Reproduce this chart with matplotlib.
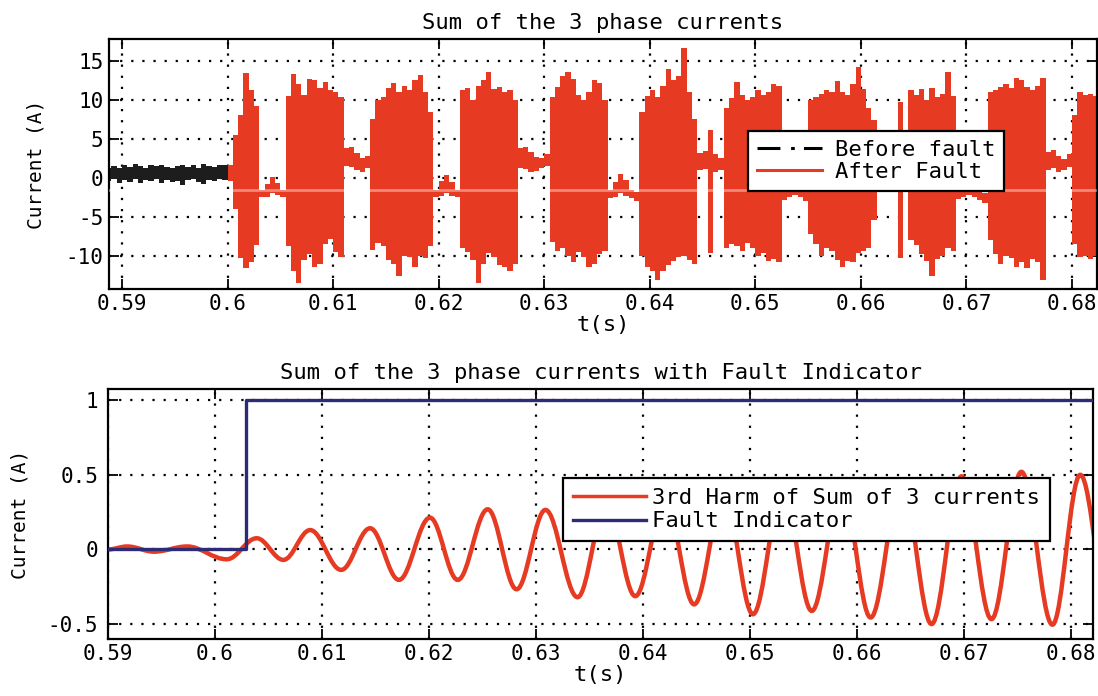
import matplotlib
matplotlib.use("Agg")
import matplotlib.pyplot as plt
import numpy as np
from matplotlib.lines import Line2D
from matplotlib.patches import PathPatch
from matplotlib.path import Path

# ---------------------------------------------------------------- data
# top panel: envelope of the summed current, read in 0.5 ms bins
T_START = 0.5885
DT = 0.0005

# before fault (black), 0.5885 .. 0.6000
pre_upper = [1.3, 1.5, 1.2, 1.6, 1.4, 1.8, 1.5, 1.3, 1.7, 1.5, 1.6, 1.4,
             1.2, 1.5, 1.7, 1.4, 1.6, 1.3, 1.8, 1.5, 1.4, 1.7, 1.6]
pre_lower = [-0.4, -0.2, -0.6, -0.3, -0.5, -0.2, -0.7, -0.3, -0.4, -0.2, -0.6, -0.3,
             -0.5, -0.4, -0.9, -0.3, -0.2, -0.5, -0.8, -0.3, -0.4, -0.2, -0.3]

# after fault (red), 0.6000 .. 0.6825
post_upper = [
    1.6, 5.5, 8.0, 13.4, 11.2, 9.2,                                  # burst 1
    -1.6, -0.8, 0.1, -0.6, -1.6,                                     # gap
    10.5, 13.3, 12.0, 10.6, 12.7, 12.5, 11.5, 12.3, 11.2, 11.0, 10.3,  # burst 2
    3.8, 4.0, 3.2, 2.6, 2.8,
    7.5, 10.0, 10.3, 11.5, 12.2, 11.0, 11.8, 11.2, 12.6, 13.2, 11.0, 8.4,
    -1.5, -0.4, 0.4, -0.5, -1.6,
    11.2, 11.5, 10.0, 11.8, 12.5, 13.6, 11.4, 11.6, 11.0, 11.2, 10.0,
    3.8, 4.0, 3.3, 2.7, 2.6, 3.0,
    10.4, 11.7, 13.0, 13.6, 12.7, 10.6, 10.0, 11.0, 12.5, 12.2, 10.0,
    -1.6, -0.5, 0.5, -0.3, -1.5, -1.8,
    8.5, 10.5, 11.3, 10.4, 11.8, 14.0, 12.5, 13.0, 16.6, 11.0, 7.5,
    3.2, 3.4, 6.1, 3.0, 2.6,
    9.0, 10.2, 12.3, 10.6, 10.0, 10.4, 11.2, 10.6, 11.0, 12.0, 11.8,
    -1.4, -0.6, 0.2, -0.6, -1.6,
    10.0, 10.4, 10.8, 11.2, 11.0, 12.4, 11.0, 10.6, 12.0, 14.2, 11.4, 9.0,
    7.4, 4.0, 3.6, 2.8, 2.6, 9.7, 3.2,
    11.2, 10.6, 11.4, 10.0, 11.5, 10.4, 10.8, 13.6, 10.5,
    -1.6, -0.8, 0.0, -0.6, -1.6, -2.0,
    11.0, 11.2, 11.6, 12.0, 11.5, 12.8, 12.6, 11.6, 11.2, 11.8, 12.8,
    3.3, 3.6, 2.8, 2.4, 3.0,
    8.0, 11.0, 10.6, 10.8, 10.5,
]
post_lower = [
    -0.4, -4.0, -10.3, -11.6, -10.8, -8.6,
    -2.5, -2.4, -2.0, -2.2, -2.5,
    -8.8, -12.0, -13.5, -10.5, -9.8, -11.4, -11.0, -8.5, -7.8, -9.5, -10.1,
    1.5, 1.4, 1.0, 0.8, 1.2,
    -9.2, -8.4, -8.8, -10.5, -11.0, -12.6, -10.0, -10.2, -11.4, -10.0, -10.3, -8.8,
    -2.5, -2.3, -1.9, -2.3, -2.5,
    -9.0, -9.5, -10.5, -13.5, -11.0, -9.6, -10.2, -11.2, -11.4, -12.0, -11.0,
    1.3, 1.1, 0.8, 0.9, 1.2, 1.5,
    -8.2, -9.4, -9.0, -10.0, -10.8, -9.5, -10.2, -11.4, -11.0, -9.8, -9.4,
    -2.6, -2.4, -2.0, -2.3, -2.6, -3.0,
    -10.0, -11.4, -12.0, -13.1, -12.0, -11.2, -10.6, -10.2, -10.0, -10.5, -11.0,
    1.0, 1.1, -9.7, 0.8, 1.0,
    -9.0, -8.5, -8.8, -9.4, -8.4, -9.0, -10.0, -9.6, -10.6, -10.4, -10.8,
    -2.8, -2.5, -2.2, -2.5, -3.0,
    -7.2, -8.5, -10.0, -9.0, -9.4, -10.5, -11.4, -10.6, -10.8, -9.6, -9.4, -9.0,
    -5.4, 1.3, 1.0, 0.8, 1.0, -10.3, 1.4,
    -8.0, -8.6, -9.8, -10.6, -12.6, -10.4, -10.0, -9.0, -9.4,
    -2.7, -2.5, -2.2, -2.5, -2.8, -3.2,
    -8.0, -9.8, -11.0, -10.0, -10.3, -11.4, -10.8, -11.5, -10.4, -10.8, -13.1,
    1.0, 1.2, 0.8, 1.0, 1.4,
    -8.5, -10.2, -10.0, -10.4, -10.0,
]

# bottom panel: extrema of the 3rd harmonic, and the fault indicator
harm_t = [0.5900, 0.5918, 0.5943, 0.5974, 0.6011, 0.6039, 0.6064, 0.6089,
          0.6118, 0.6145, 0.6172, 0.6201, 0.6227, 0.6255, 0.6282, 0.6309,
          0.6339, 0.6366, 0.6393, 0.6421, 0.6448, 0.6476, 0.6503, 0.6531,
          0.6558, 0.6586, 0.6613, 0.6642, 0.6670, 0.6698, 0.6726, 0.6754,
          0.6783, 0.6809, 0.6838]
harm_v = [0.0, 0.02, -0.015, 0.02, -0.066, 0.075, -0.07, 0.13,
          -0.137, 0.142, -0.204, 0.213, -0.204, 0.269, -0.267, 0.265,
          -0.32, 0.30, -0.313, 0.33, -0.368, 0.36, -0.434, 0.40,
          -0.412, 0.42, -0.456, 0.45, -0.5, 0.49, -0.467, 0.52,
          -0.504, 0.50, -0.5]
fault_t = [0.5900, 0.6029, 0.6825]
fault_v = [0, 1, 1]

x_ticks = [0.59, 0.60, 0.61, 0.62, 0.63, 0.64, 0.65, 0.66, 0.67, 0.68]
x_labels = ["0.59", "0.6", "0.61", "0.62", "0.63", "0.64", "0.65", "0.66", "0.67", "0.68"]
top_yticks = [-10, -5, 0, 5, 10, 15]
bot_yticks = [-0.5, 0, 0.5, 1]
bot_ylabels = ["-0.5", "0", "0.5", "1"]

RED = "#e63a22"
NAVY = "#2d2b75"


def smooth_path(ts, vs, a=0.364):
    """Cubic curve through successive extrema, flat at each one."""
    verts = [(ts[0], vs[0])]
    codes = [Path.MOVETO]
    for t0, v0, t1, v1 in zip(ts[:-1], vs[:-1], ts[1:], vs[1:]):
        d = t1 - t0
        verts += [(t0 + a * d, v0), (t1 - a * d, v1), (t1, v1)]
        codes += [Path.CURVE4] * 3
    return Path(verts, codes)


def style_axes(ax):
    ax.set_axisbelow(True)
    ax.grid(True, color="black", linestyle=(0, (1, 4)), linewidth=1.6)
    ax.tick_params(direction="in", top=True, right=True, length=7, width=1.3,
                   labelsize=15)
    for sp in ax.spines.values():
        sp.set_linewidth(1.6)
    ax.set_xticks(x_ticks, x_labels)


def main():
    fig = plt.figure(figsize=(10.98, 6.96), dpi=100)

    # ---- top panel
    ax1 = fig.add_axes([0.0993, 0.5848, 0.8998, 0.3592])
    n_pre = len(pre_upper)
    t_pre = T_START + DT * np.arange(n_pre + 1)
    ax1.fill_between(t_pre, pre_lower + pre_lower[-1:], pre_upper + pre_upper[-1:],
                     step="post", color="#1d1d1d", linewidth=0, zorder=2)
    t_post = T_START + DT * np.arange(n_pre, n_pre + len(post_upper) + 1)
    ax1.fill_between(t_post, post_lower + post_lower[-1:], post_upper + post_upper[-1:],
                     step="post", color=RED, linewidth=0, zorder=2)
    ax1.axhline(-1.55, color="white", alpha=0.4, lw=2, zorder=3)
    ax1.set_xlim(0.58877, 0.68237)
    ax1.set_ylim(-14.25, 17.8)
    style_axes(ax1)
    ax1.set_yticks(top_yticks)
    ax1.tick_params(axis="y", pad=4)
    ax1.set_title("Sum of the 3 phase currents", fontsize=16, pad=7)
    ax1.set_xlabel("t(s)", fontsize=16, labelpad=1)
    ax1.set_ylabel("Current (A)", fontsize=14)
    ax1.yaxis.set_label_coords(-0.064, 0.5)
    handles = [
        Line2D([], [], color="black", lw=2.2, dashes=(7.5, 3.5, 1.2, 3.0)),
        Line2D([], [], color=RED, lw=2.2),
    ]
    leg = ax1.legend(handles, ["Before fault", "After Fault"], loc="upper left",
                     bbox_to_anchor=(0.647, 0.632), borderaxespad=0, fontsize=16,
                     fancybox=False, framealpha=1, edgecolor="black",
                     handlelength=2.9, handletextpad=0.6, labelspacing=0.1,
                     borderpad=0.4)
    leg.get_frame().set_linewidth(1.6)

    # ---- bottom panel
    ax2 = fig.add_axes([0.0984, 0.0819, 0.8971, 0.3592])
    ax2.add_patch(PathPatch(smooth_path(harm_t, harm_v), facecolor="none",
                            edgecolor=RED, lw=3.2, zorder=2))
    ind, = ax2.plot(fault_t, fault_v, drawstyle="steps-post", color=NAVY, lw=2.4,
                    zorder=3)
    ax2.set_xlim(0.59, 0.6821)
    ax2.set_ylim(-0.6, 1.075)
    style_axes(ax2)
    ax2.set_yticks(bot_yticks, bot_ylabels)
    ax2.tick_params(axis="y", pad=7)
    ax2.set_title("Sum of the 3 phase currents with Fault Indicator", fontsize=16, pad=7)
    ax2.set_xlabel("t(s)", fontsize=16, labelpad=1)
    ax2.set_ylabel("Current (A)", fontsize=14)
    ax2.yaxis.set_label_coords(-0.080, 0.5)
    harm_handle = Line2D([], [], color=RED, lw=2.5)
    leg2 = ax2.legend([harm_handle, ind], ["3rd Harm of Sum of 3 currents", "Fault Indicator"],
                      loc="upper left", bbox_to_anchor=(0.462, 0.644), borderaxespad=0,
                      fontsize=16, fancybox=False, framealpha=1, edgecolor="black",
                      handlelength=3.3, handletextpad=0.25, labelspacing=0.15,
                      borderpad=0.45)
    leg2.get_frame().set_linewidth(1.6)

    fig.savefig("out.png", dpi=100, facecolor="white")
    plt.close(fig)


if __name__ == "__main__":
    plt.rcParams.update({
        "font.family": "DejaVu Sans Mono",
        "axes.unicode_minus": False,
    })
    main()
